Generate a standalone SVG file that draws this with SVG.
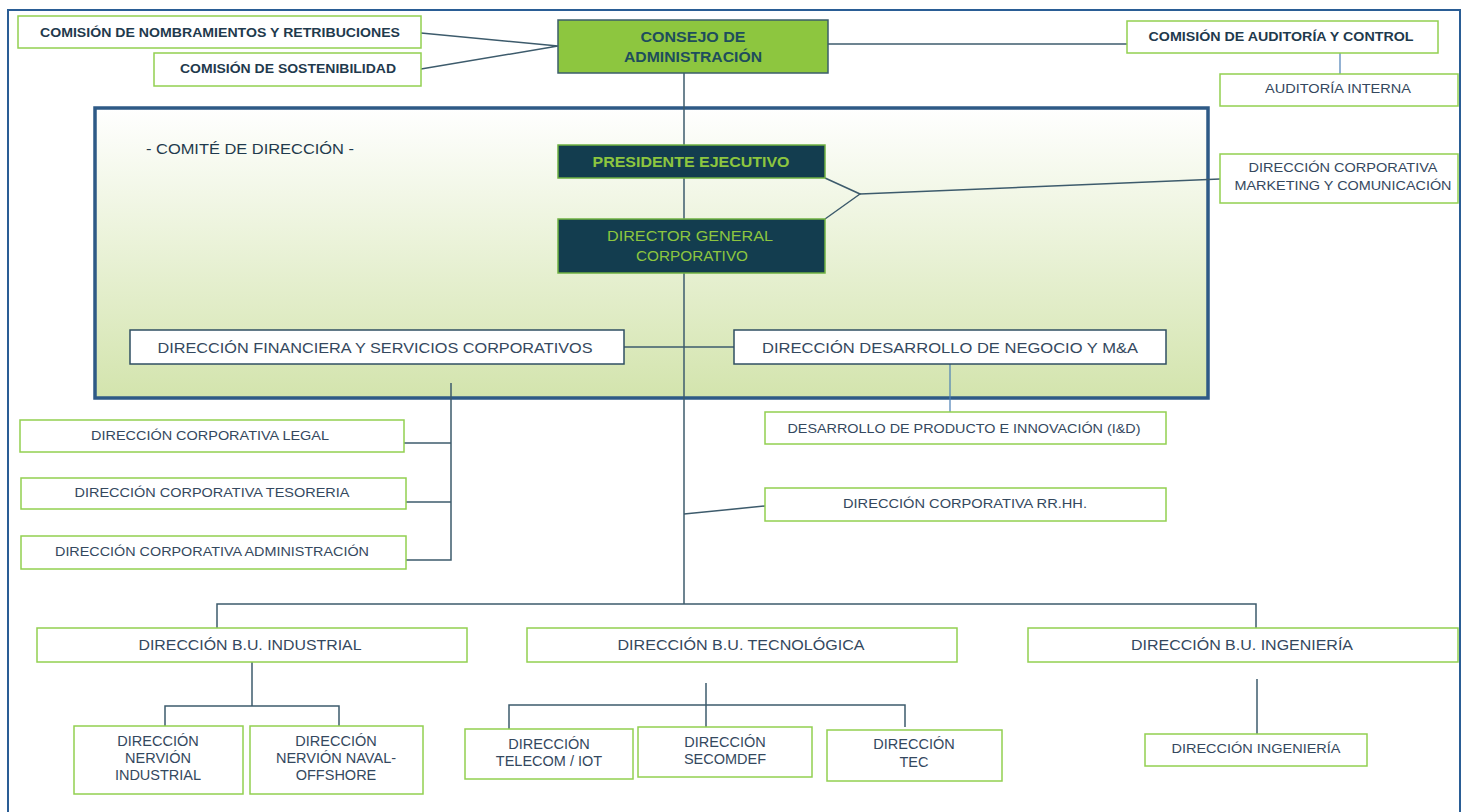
<svg xmlns="http://www.w3.org/2000/svg" width="1467" height="812" viewBox="0 0 1467 812">
<defs>
<linearGradient id="cg" x1="0" y1="0" x2="0" y2="1">
<stop offset="0" stop-color="#ffffff"/>
<stop offset="1" stop-color="#d3e4ad"/>
</linearGradient>
<style>
.g{fill:#ffffff;stroke:#92d050;stroke-width:1.5}
.w{fill:#ffffff;stroke:#2f4f63;stroke-width:1.5}
.d{fill:#133d4f;stroke:#6fb142;stroke-width:1.5}
.t{font-family:"Liberation Sans",Arial,sans-serif;font-size:13px;fill:#34485e;text-anchor:middle}
.s{font-size:14.5px}
.b{font-weight:bold;fill:#1f3a4d}
.n{font-size:15px}
.c{stroke:#3d5b6c;stroke-width:1.5;fill:none}
.cb{stroke:#4a7fb5;stroke-width:1.2;fill:none}
</style>
</defs>
<rect x="0" y="0" width="1467" height="812" fill="#ffffff"/>
<rect x="8" y="10" width="1452" height="830" fill="none" stroke="#2a5d95" stroke-width="2"/>

<g id="comite">
<rect x="95" y="108" width="1113" height="290" fill="url(#cg)" stroke="#2e5a86" stroke-width="3.5"/>
<text class="t n" x="146" y="154" style="fill:#1f3a4d;text-anchor:start" textLength="208" lengthAdjust="spacingAndGlyphs">- COMITÉ DE DIRECCIÓN  -</text>
</g>

<g id="connectors">
<polyline class="c" points="421,33 558,46 421,69"/>
<line class="c" x1="828" y1="44" x2="1127" y2="44"/>
<line class="cb" x1="1340" y1="53" x2="1340" y2="74"/>
<line class="c" x1="684" y1="72" x2="684" y2="604"/>
<polyline class="c" points="825,178 860,194 825,219"/>
<line class="c" x1="860" y1="194" x2="1220" y2="179"/>
<line class="c" x1="624" y1="347" x2="734" y2="347"/>
<line class="cb" x1="950" y1="364" x2="950" y2="412"/>
<polyline class="c" points="404,443 451,443"/>
<polyline class="c" points="406,502 451,502"/>
<polyline class="c" points="451,383 451,560 406,560"/>
<line class="c" x1="684" y1="514" x2="765" y2="506"/>
<polyline class="c" points="217,628 217,604 1256,604 1256,628"/>
<line class="c" x1="252" y1="662" x2="252" y2="706"/>
<polyline class="c" points="165,726 165,706 339,706 339,726"/>
<line class="c" x1="706" y1="683" x2="706" y2="728"/>
<polyline class="c" points="509,729 509,705 905,705 905,727"/>
<line class="c" x1="1257" y1="679" x2="1257" y2="734"/>
</g>

<g id="nombramientos">
<rect class="g" x="18" y="16" width="403" height="32"/>
<text class="t b" x="220" y="37" textLength="360" lengthAdjust="spacingAndGlyphs">COMISIÓN DE NOMBRAMIENTOS  Y RETRIBUCIONES</text>
</g>
<g id="sostenibilidad">
<rect class="g" x="154" y="53" width="267" height="33"/>
<text class="t b" x="288" y="73" textLength="216" lengthAdjust="spacingAndGlyphs">COMISIÓN DE  SOSTENIBILIDAD</text>
</g>
<g id="consejo">
<rect x="558" y="20" width="270" height="53" fill="#8dc63f" stroke="#3b5d6b" stroke-width="1.5"/>
<text class="t b" x="693" y="42" style="fill:#1e4d5c;font-size:14px" textLength="105" lengthAdjust="spacingAndGlyphs">CONSEJO  DE</text>
<text class="t b" x="693" y="62" style="fill:#1e4d5c;font-size:14px" textLength="138" lengthAdjust="spacingAndGlyphs">ADMINISTRACIÓN</text>
</g>
<g id="auditoria-control">
<rect class="g" x="1127" y="21" width="311" height="32"/>
<text class="t b" x="1281" y="41" textLength="265" lengthAdjust="spacingAndGlyphs">COMISIÓN DE  AUDITORÍA  Y CONTROL</text>
</g>
<g id="auditoria-interna">
<rect class="g" x="1220" y="74" width="238" height="32"/>
<text class="t" x="1338" y="93" textLength="146" lengthAdjust="spacingAndGlyphs">AUDITORÍA INTERNA</text>
</g>
<g id="marketing">
<rect class="g" x="1220" y="154" width="238" height="49"/>
<text class="t" x="1343" y="172" textLength="189" lengthAdjust="spacingAndGlyphs">DIRECCIÓN CORPORATIVA</text>
<text class="t" x="1343" y="190" textLength="217" lengthAdjust="spacingAndGlyphs">MARKETING Y  COMUNICACIÓN</text>
</g>
<g id="presidente">
<rect class="d" x="558" y="145" width="267" height="33"/>
<text class="t b n" x="691" y="167" style="fill:#8dc63f" textLength="197" lengthAdjust="spacingAndGlyphs">PRESIDENTE  EJECUTIVO</text>
</g>
<g id="director-general">
<rect class="d" x="558" y="219" width="267" height="54"/>
<text class="t n" x="690" y="241" style="fill:#8dc63f" textLength="166" lengthAdjust="spacingAndGlyphs">DIRECTOR  GENERAL</text>
<text class="t n" x="692" y="261" style="fill:#8dc63f" textLength="112" lengthAdjust="spacingAndGlyphs">CORPORATIVO</text>
</g>
<g id="financiera">
<rect class="w" x="130" y="330" width="494" height="34"/>
<text class="t n" x="375" y="353" textLength="435" lengthAdjust="spacingAndGlyphs">DIRECCIÓN  FINANCIERA  Y SERVICIOS  CORPORATIVOS</text>
</g>
<g id="desarrollo">
<rect class="w" x="734" y="330" width="432" height="34"/>
<text class="t n" x="950" y="353" textLength="376" lengthAdjust="spacingAndGlyphs">DIRECCIÓN   DESARROLLO  DE NEGOCIO  Y M&amp;A</text>
</g>
<g id="producto">
<rect class="g" x="765" y="412" width="401" height="32"/>
<text class="t" x="964" y="433" textLength="353" lengthAdjust="spacingAndGlyphs">DESARROLLO DE PRODUCTO E INNOVACIÓN (I&amp;D)</text>
</g>
<g id="legal">
<rect class="g" x="20" y="420" width="384" height="32"/>
<text class="t" x="210" y="440" textLength="238" lengthAdjust="spacingAndGlyphs">DIRECCIÓN CORPORATIVA LEGAL</text>
</g>
<g id="tesoreria">
<rect class="g" x="21" y="478" width="385" height="31"/>
<text class="t" x="212" y="497" textLength="275" lengthAdjust="spacingAndGlyphs">DIRECCIÓN CORPORATIVA TESORERIA</text>
</g>
<g id="administracion">
<rect class="g" x="21" y="536" width="385" height="33"/>
<text class="t" x="212" y="556" textLength="314" lengthAdjust="spacingAndGlyphs">DIRECCIÓN CORPORATIVA ADMINISTRACIÓN</text>
</g>
<g id="rrhh">
<rect class="g" x="765" y="488" width="401" height="33"/>
<text class="t" x="965" y="508" textLength="244" lengthAdjust="spacingAndGlyphs">DIRECCIÓN CORPORATIVA RR.HH.</text>
</g>
<g id="bu-industrial">
<rect class="g" x="37" y="628" width="430" height="34"/>
<text class="t n" x="250" y="650" textLength="223" lengthAdjust="spacingAndGlyphs">DIRECCIÓN   B.U. INDUSTRIAL</text>
</g>
<g id="bu-tecnologica">
<rect class="g" x="527" y="628" width="430" height="34"/>
<text class="t n" x="741" y="650" textLength="247" lengthAdjust="spacingAndGlyphs">DIRECCIÓN   B.U. TECNOLÓGICA</text>
</g>
<g id="bu-ingenieria">
<rect class="g" x="1028" y="628" width="430" height="34"/>
<text class="t n" x="1242" y="650" textLength="222" lengthAdjust="spacingAndGlyphs">DIRECCIÓN   B.U. INGENIERÍA</text>
</g>
<g id="nervion-industrial">
<rect class="g" x="74" y="726" width="169" height="68"/>
<text class="t s" x="158" y="746">DIRECCIÓN</text>
<text class="t s" x="158" y="763">NERVIÓN</text>
<text class="t s" x="158" y="780">INDUSTRIAL</text>
</g>
<g id="nervion-naval">
<rect class="g" x="250" y="726" width="173" height="68"/>
<text class="t s" x="336" y="746">DIRECCIÓN</text>
<text class="t s" x="336" y="763">NERVIÓN NAVAL-</text>
<text class="t s" x="336" y="780">OFFSHORE</text>
</g>
<g id="telecom">
<rect class="g" x="465" y="729" width="168" height="50"/>
<text class="t s" x="549" y="749">DIRECCIÓN</text>
<text class="t s" x="549" y="766">TELECOM / IOT</text>
</g>
<g id="secomdef">
<rect class="g" x="638" y="727" width="174" height="50"/>
<text class="t s" x="725" y="747">DIRECCIÓN</text>
<text class="t s" x="725" y="764">SECOMDEF</text>
</g>
<g id="tec">
<rect class="g" x="827" y="730" width="175" height="51"/>
<text class="t s" x="914" y="749">DIRECCIÓN</text>
<text class="t s" x="914" y="767">TEC</text>
</g>
<g id="ingenieria">
<rect class="g" x="1145" y="734" width="222" height="32"/>
<text class="t" x="1256" y="753" textLength="169" lengthAdjust="spacingAndGlyphs">DIRECCIÓN INGENIERÍA</text>
</g>
</svg>
